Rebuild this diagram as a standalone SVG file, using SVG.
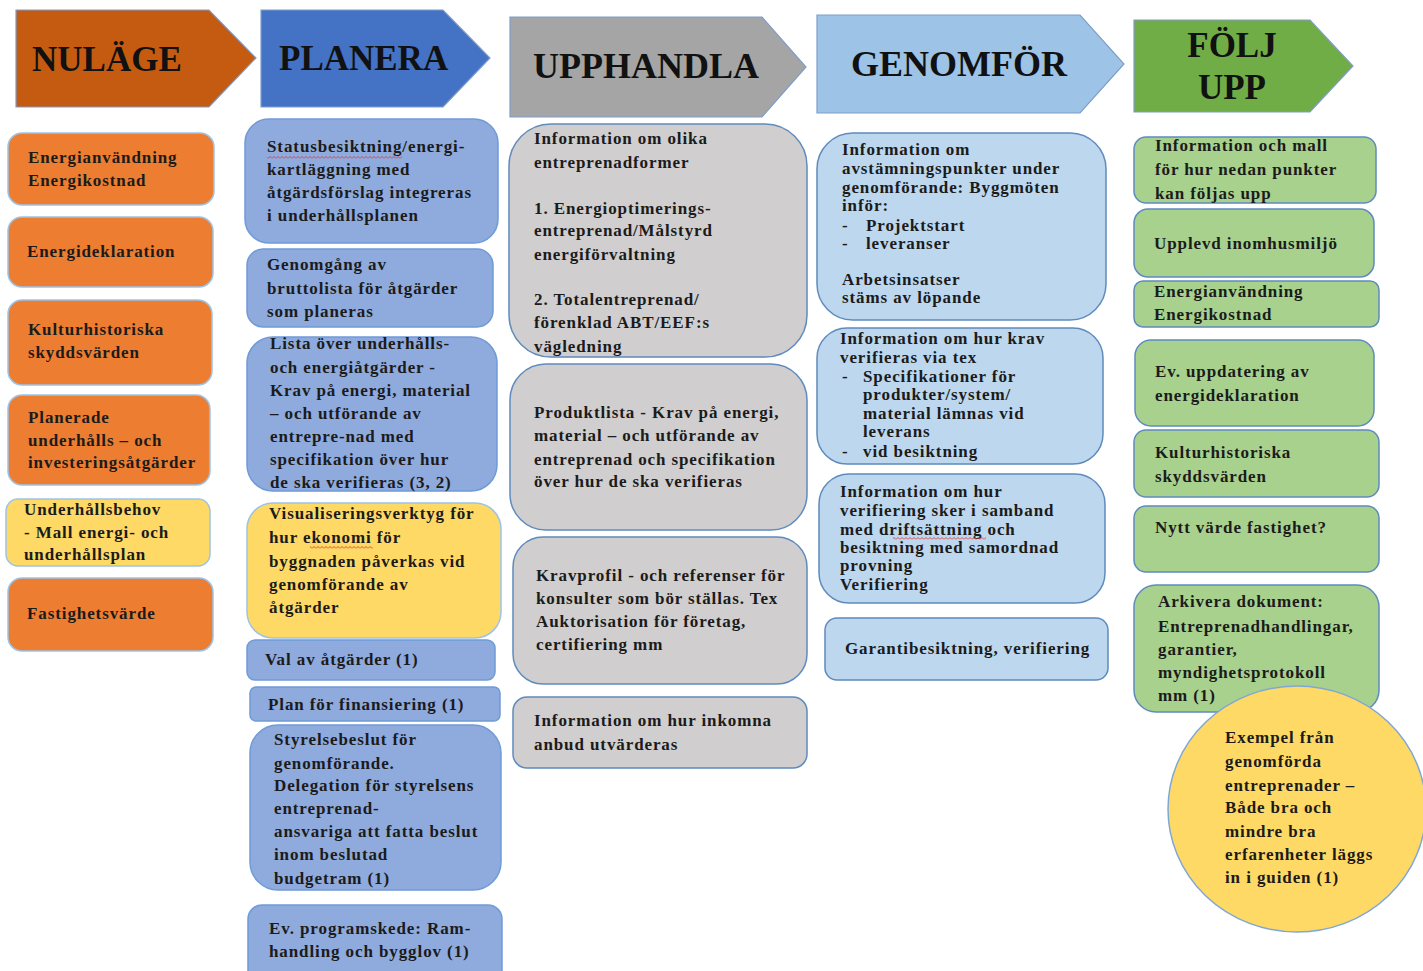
<svg xmlns="http://www.w3.org/2000/svg" width="1423" height="971" viewBox="0 0 1423 971">
<style>
.t{font-family:"Liberation Serif","Times New Roman",serif;font-weight:bold;font-size:17px;letter-spacing:0.9px;fill:#1b1b1b}
.hd{font-family:"Liberation Serif","Times New Roman",serif;font-weight:bold;fill:#111}
.chev{stroke:#7f9dc9;stroke-width:1.2}
.or{fill:#ed7d31;stroke:#9dc3e6;stroke-width:1.5}
.ye{fill:#ffd966;stroke:#9dc3e6;stroke-width:1.5}
.bl{fill:#8faadc;stroke:#6f9bd8;stroke-width:1.5}
.gr{fill:#d0cece;stroke:#5f8bbd;stroke-width:1.5}
.lb{fill:#bdd7ee;stroke:#5f8bbd;stroke-width:1.5}
.gn{fill:#a9d18e;stroke:#5f8bbd;stroke-width:1.5}
</style>
<defs>
<pattern id="sq" width="4" height="3" patternUnits="userSpaceOnUse"><path d="M0,2.5 L2,0.5 L4,2.5" stroke="#e03a3a" fill="none" stroke-width="0.9"/></pattern>
</defs>
<rect width="1423" height="971" fill="#ffffff"/>

<g id="connectors"></g>

<!-- Headers -->
<g id="h-nulage">
<polygon class="chev" fill="#c55a11" points="16,10 209,10 256,58 209,107 16,107"/>
<text class="hd" x="32" y="71" font-size="35">NULÄGE</text>
</g>
<g id="h-planera">
<polygon class="chev" fill="#4472c4" points="261,10 443,10 490,58 443,107 261,107"/>
<text class="hd" x="279" y="70" font-size="35">PLANERA</text>
</g>
<g id="h-upphandla">
<polygon class="chev" fill="#a5a5a5" points="510,17 762,17 806,67 762,117 510,117"/>
<text class="hd" x="533" y="78" font-size="36">UPPHANDLA</text>
</g>
<g id="h-genomfor">
<polygon class="chev" fill="#9dc3e6" points="817,15 1080,15 1124,64 1080,113 817,113"/>
<text class="hd" x="851" y="76" font-size="36">GENOMFÖR</text>
</g>
<g id="h-foljupp">
<polygon class="chev" fill="#70ad47" points="1134,20 1310,20 1353,66 1310,112 1134,112"/>
<text class="hd" x="1232" y="57" font-size="35" text-anchor="middle">FÖLJ</text>
<text class="hd" x="1232" y="99" font-size="35" text-anchor="middle">UPP</text>
</g>

<!-- Column 1 NULÄGE -->
<g id="n1"><rect class="or" x="8" y="133" width="206" height="72" rx="14"/>
<text class="t"><tspan x="28" y="163">Energianvändning</tspan><tspan x="28" y="186">Energikostnad</tspan></text></g>
<g id="n2"><rect class="or" x="8" y="217" width="205" height="70" rx="14"/>
<text class="t" x="27" y="257">Energideklaration</text></g>
<g id="n3"><rect class="or" x="8" y="300" width="204" height="85" rx="14"/>
<text class="t"><tspan x="28" y="335">Kulturhistoriska</tspan><tspan x="28" y="358">skyddsvärden</tspan></text></g>
<g id="n4"><rect class="or" x="8" y="395" width="202" height="90" rx="14"/>
<text class="t"><tspan x="28" y="423">Planerade</tspan><tspan x="28" y="446">underhålls – och</tspan><tspan x="28" y="468">investeringsåtgärder</tspan></text></g>
<g id="n5"><rect class="ye" x="6" y="499" width="204" height="67" rx="12"/>
<text class="t"><tspan x="24" y="515">Underhållsbehov</tspan><tspan x="24" y="538">- Mall energi- och</tspan><tspan x="24" y="560">underhållsplan</tspan></text></g>
<g id="n6"><rect class="or" x="8" y="578" width="205" height="73" rx="14"/>
<text class="t" x="27" y="619">Fastighetsvärde</text></g>

<!-- Column 2 PLANERA -->
<g id="p1"><rect class="bl" x="245" y="119" width="253" height="124" rx="24"/>
<text class="t"><tspan x="267" y="152">Statusbesiktning/energi-</tspan><tspan x="267" y="175">kartläggning med</tspan><tspan x="267" y="198">åtgärdsförslag integreras</tspan><tspan x="267" y="221">i underhållsplanen</tspan></text>
<rect x="267" y="156" width="135" height="3" fill="url(#sq)"/></g>
<g id="p2"><rect class="bl" x="247" y="249" width="246" height="78" rx="16"/>
<text class="t"><tspan x="267" y="270">Genomgång av</tspan><tspan x="267" y="294">bruttolista för åtgärder</tspan><tspan x="267" y="317">som planeras</tspan></text></g>
<g id="p3"><rect class="bl" x="247" y="337" width="250" height="154" rx="26"/>
<text class="t"><tspan x="270" y="349">Lista över underhålls-</tspan><tspan x="270" y="373">och energiåtgärder -</tspan><tspan x="270" y="396">Krav på energi, material</tspan><tspan x="270" y="419">– och utförande av</tspan><tspan x="270" y="442">entrepre-nad med</tspan><tspan x="270" y="465">specifikation över hur</tspan><tspan x="270" y="488">de ska verifieras (3, 2)</tspan></text></g>
<g id="p4"><rect class="ye" x="247" y="503" width="254" height="135" rx="26"/>
<text class="t"><tspan x="269" y="519">Visualiseringsverktyg för</tspan><tspan x="269" y="543">hur ekonomi för</tspan><tspan x="269" y="567">byggnaden påverkas vid</tspan><tspan x="269" y="590">genomförande av</tspan><tspan x="269" y="613">åtgärder</tspan></text>
<rect x="310" y="546" width="63" height="3" fill="url(#sq)"/></g>
<g id="p5"><rect class="bl" x="247" y="640" width="248" height="40" rx="8"/>
<text class="t" x="265" y="665">Val av åtgärder (1)</text></g>
<g id="p6"><rect class="bl" x="250" y="687" width="250" height="34" rx="6"/>
<text class="t" x="268" y="710">Plan för finansiering (1)</text></g>
<g id="p7"><rect class="bl" x="250" y="725" width="251" height="165" rx="28"/>
<text class="t"><tspan x="274" y="745">Styrelsebeslut för</tspan><tspan x="274" y="769">genomförande.</tspan><tspan x="274" y="791">Delegation för styrelsens</tspan><tspan x="274" y="814">entreprenad-</tspan><tspan x="274" y="837">ansvariga att fatta beslut</tspan><tspan x="274" y="860">inom beslutad</tspan><tspan x="274" y="884">budgetram (1)</tspan></text></g>
<g id="p8"><rect class="bl" x="248" y="905" width="254" height="80" rx="14"/>
<text class="t"><tspan x="269" y="934">Ev. programskede: Ram-</tspan><tspan x="269" y="957">handling och bygglov (1)</tspan></text></g>

<!-- Column 3 UPPHANDLA -->
<g id="u1"><rect class="gr" x="509" y="124" width="298" height="233" rx="42"/>
<text class="t"><tspan x="534" y="144">Information om olika</tspan><tspan x="534" y="168">entreprenadformer</tspan><tspan x="534" y="214">1. Energioptimerings-</tspan><tspan x="534" y="236">entreprenad/Målstyrd</tspan><tspan x="534" y="260">energiförvaltning</tspan><tspan x="534" y="305">2. Totalentreprenad/</tspan><tspan x="534" y="328">förenklad ABT/EEF:s</tspan><tspan x="534" y="352">vägledning</tspan></text></g>
<g id="u2"><rect class="gr" x="510" y="364" width="297" height="166" rx="36"/>
<text class="t"><tspan x="534" y="418">Produktlista - Krav på energi,</tspan><tspan x="534" y="441">material – och utförande av</tspan><tspan x="534" y="465">entreprenad och specifikation</tspan><tspan x="534" y="487">över hur de ska verifieras</tspan></text></g>
<g id="u3"><rect class="gr" x="513" y="537" width="294" height="147" rx="30"/>
<text class="t"><tspan x="536" y="581">Kravprofil - och referenser för</tspan><tspan x="536" y="604">konsulter som bör ställas. Tex</tspan><tspan x="536" y="627">Auktorisation för företag,</tspan><tspan x="536" y="650">certifiering mm</tspan></text></g>
<g id="u4"><rect class="gr" x="513" y="697" width="294" height="71" rx="14"/>
<text class="t"><tspan x="534" y="726">Information om hur inkomna</tspan><tspan x="534" y="750">anbud utvärderas</tspan></text></g>

<!-- Column 4 GENOMFÖR -->
<g id="g1"><rect class="lb" x="817" y="133" width="289" height="187" rx="36"/>
<text class="t"><tspan x="842" y="155">Information om</tspan><tspan x="842" y="174">avstämningspunkter under</tspan><tspan x="842" y="193">genomförande: Byggmöten</tspan><tspan x="842" y="211">inför:</tspan><tspan x="842" y="231">-</tspan><tspan x="866" y="231">Projektstart</tspan><tspan x="842" y="249">-</tspan><tspan x="866" y="249">leveranser</tspan><tspan x="842" y="285">Arbetsinsatser</tspan><tspan x="842" y="303">stäms av löpande</tspan></text></g>
<g id="g2"><rect class="lb" x="817" y="328" width="286" height="136" rx="30"/>
<text class="t"><tspan x="840" y="344">Information om hur krav</tspan><tspan x="840" y="363">verifieras via tex</tspan><tspan x="842" y="382">-</tspan><tspan x="863" y="382">Specifikationer för</tspan><tspan x="863" y="400">produkter/system/</tspan><tspan x="863" y="419">material lämnas vid</tspan><tspan x="863" y="437">leverans</tspan><tspan x="842" y="457">-</tspan><tspan x="863" y="457">vid besiktning</tspan></text></g>
<g id="g3"><rect class="lb" x="819" y="474" width="286" height="129" rx="30"/>
<text class="t"><tspan x="840" y="497">Information om hur</tspan><tspan x="840" y="516">verifiering sker i samband</tspan><tspan x="840" y="535">med driftsättning och</tspan><tspan x="840" y="553">besiktning med samordnad</tspan><tspan x="840" y="571">provning</tspan><tspan x="840" y="590">Verifiering</tspan></text>
<rect x="893" y="537" width="93" height="3" fill="url(#sq)"/></g>
<g id="g4"><rect class="lb" x="825" y="618" width="283" height="62" rx="12"/>
<text class="t" x="845" y="654">Garantibesiktning, verifiering</text></g>

<!-- Column 5 FÖLJ UPP -->
<g id="f1"><rect class="gn" x="1134" y="137" width="242" height="66" rx="12"/>
<text class="t"><tspan x="1155" y="151">Information och mall</tspan><tspan x="1155" y="175">för hur nedan punkter</tspan><tspan x="1155" y="199">kan följas upp</tspan></text></g>
<g id="f2"><rect class="gn" x="1134" y="209" width="240" height="68" rx="14"/>
<text class="t" x="1154" y="249">Upplevd inomhusmiljö</text></g>
<g id="f3"><rect class="gn" x="1134" y="281" width="245" height="46" rx="9"/>
<text class="t"><tspan x="1154" y="297">Energianvändning</tspan><tspan x="1154" y="320">Energikostnad</tspan></text></g>
<g id="f4"><rect class="gn" x="1135" y="340" width="239" height="86" rx="16"/>
<text class="t"><tspan x="1155" y="377">Ev. uppdatering av</tspan><tspan x="1155" y="401">energideklaration</tspan></text></g>
<g id="f5"><rect class="gn" x="1134" y="430" width="245" height="67" rx="12"/>
<text class="t"><tspan x="1155" y="458">Kulturhistoriska</tspan><tspan x="1155" y="482">skyddsvärden</tspan></text></g>
<g id="f6"><rect class="gn" x="1134" y="506" width="245" height="66" rx="12"/>
<text class="t" x="1155" y="533">Nytt värde fastighet?</text></g>
<g id="f7"><rect class="gn" x="1134" y="585" width="245" height="127" rx="22"/>
<text class="t"><tspan x="1158" y="607">Arkivera dokument:</tspan><tspan x="1158" y="632">Entreprenadhandlingar,</tspan><tspan x="1158" y="655">garantier,</tspan><tspan x="1158" y="678">myndighetsprotokoll</tspan><tspan x="1158" y="701">mm (1)</tspan></text></g>
<g id="f8"><ellipse cx="1297" cy="809" rx="129" ry="123" fill="#ffd966" stroke="#7fa7d6" stroke-width="1.5"/>
<text class="t"><tspan x="1225" y="743">Exempel från</tspan><tspan x="1225" y="767">genomförda</tspan><tspan x="1225" y="791">entreprenader –</tspan><tspan x="1225" y="813">Både bra och</tspan><tspan x="1225" y="837">mindre bra</tspan><tspan x="1225" y="860">erfarenheter läggs</tspan><tspan x="1225" y="883">in i guiden (1)</tspan></text></g>
</svg>
